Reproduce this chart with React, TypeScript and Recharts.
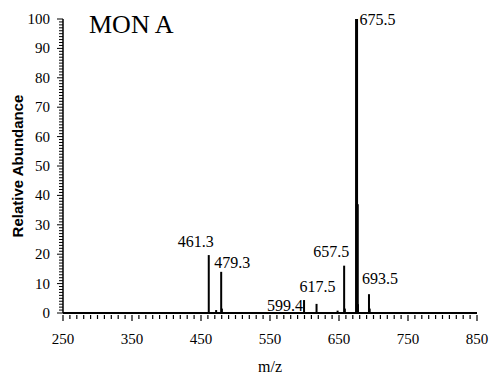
import { ComposedChart, Bar, XAxis, YAxis, LabelList } from 'recharts'

const mz = [461.3, 472, 479.3, 480.3, 599.4, 617.5, 648, 657.5, 658.5, 675.5, 676.5, 677.5, 693.5, 694.5]
const abundance = [19.7, 1, 14, 1.5, 4.4, 3.1, 0.8, 16.1, 1.5, 100, 37, 3, 6.4, 1.5]
const peakLabels = ['461.3', '', '479.3', '', '599.4', '617.5', '', '657.5', '', '675.5', '', '', '693.5', '']

const xTickLabels = [250, 350, 450, 550, 650, 750, 850]
const yTickLabels = [0, 10, 20, 30, 40, 50, 60, 70, 80, 90, 100]
const xTicks = Array.from({ length: 61 }, (_, i) => 250 + i * 10)
const yTicks = Array.from({ length: 101 }, (_, i) => i)

const data = mz.map((m, i) => ({ mz: m, abundance: abundance[i], label: peakLabels[i] }))

// where each peak label sits relative to the top of its bar
const labelPlacement: Record<string, { anchor: 'start' | 'middle' | 'end'; dx: number; dy: number }> = {
  '461.3': { anchor: 'middle', dx: -13, dy: -8 },
  '479.3': { anchor: 'start', dx: -7, dy: -4 },
  '599.4': { anchor: 'end', dx: -1, dy: 11 },
  '617.5': { anchor: 'middle', dx: 1, dy: -12 },
  '657.5': { anchor: 'middle', dx: -13, dy: -9 },
  '675.5': { anchor: 'start', dx: 3, dy: 6 },
  '693.5': { anchor: 'start', dx: -7, dy: -10 },
}

const serif = '"Liberation Serif", "DejaVu Serif", serif'

function XTick({ x, y, payload }: any) {
  const major = xTickLabels.includes(payload.value)
  return (
    <g>
      <path d={`M${x},${y}V${y + (major ? 6 : 4)}`} stroke="#000" strokeWidth={1.2} />
      {major && (
        <text x={x} y={y + 29} textAnchor="middle" fontFamily={serif} fontSize={15} fill="#000">
          {payload.value}
        </text>
      )}
    </g>
  )
}

function YTick({ x, y, payload }: any) {
  const major = yTickLabels.includes(payload.value)
  return (
    <g>
      <path d={`M${x - (major ? 6 : 4)},${y}H${x}`} stroke="#000" strokeWidth={1} />
      {major && (
        <text x={x - 13} y={y + 5} textAnchor="end" fontFamily={serif} fontSize={15} fill="#000">
          {payload.value}
        </text>
      )}
    </g>
  )
}

function Peak({ x, y, width, height, payload }: any) {
  const w = payload.abundance > 30 ? 3 : 2
  return <rect x={x + width / 2 - w / 2} y={y} width={w} height={height} fill="#000" />
}

function PeakLabel({ x, y, width, value }: any) {
  if (!value) return null
  const p = labelPlacement[value]
  return (
    <text x={x + width / 2 + p.dx} y={y + p.dy} textAnchor={p.anchor} fontFamily={serif} fontSize={16} fill="#000">
      {value}
    </text>
  )
}

export default function App() {
  return (
    <div style={{ position: 'absolute', left: 0, top: 0, width: 493, height: 377, background: '#fff' }}>
      <div style={{ position: 'absolute', left: 89, top: 12, fontFamily: serif, fontSize: 26, color: '#000', lineHeight: 1 }}>
        MON A
      </div>
      <ComposedChart width={493} height={377} data={data} margin={{ top: 19, right: 16, left: 0, bottom: 0 }}>
        <XAxis
          dataKey="mz"
          type="number"
          domain={[250, 850]}
          ticks={xTicks}
          interval={0}
          allowDataOverflow
          height={64}
          tickSize={0}
          tickLine={false}
          axisLine={{ stroke: '#000', strokeWidth: 2 }}
          tick={<XTick />}
          label={{ value: 'm/z', position: 'insideBottom', offset: 5, fontFamily: serif, fontSize: 16, fill: '#000' }}
        />
        <YAxis
          type="number"
          domain={[0, 100]}
          ticks={yTicks}
          interval={0}
          width={63}
          tickSize={0}
          tickMargin={0}
          tickLine={false}
          axisLine={{ stroke: '#000', strokeWidth: 1.5 }}
          tick={<YTick />}
          label={({ viewBox }: any) => (
            <text
              x={17}
              y={viewBox.y + viewBox.height / 2}
              transform={`rotate(-90, 17, ${viewBox.y + viewBox.height / 2})`}
              textAnchor="middle"
              dominantBaseline="central"
              fontFamily='"Liberation Sans", Arial, sans-serif'
              fontWeight="bold"
              fontSize={15}
              fill="#000"
            >
              Relative Abundance
            </text>
          )}
        />
        <Bar dataKey="abundance" barSize={3} shape={<Peak />} isAnimationActive={false}>
          <LabelList dataKey="label" content={<PeakLabel />} />
        </Bar>
      </ComposedChart>
    </div>
  )
}
